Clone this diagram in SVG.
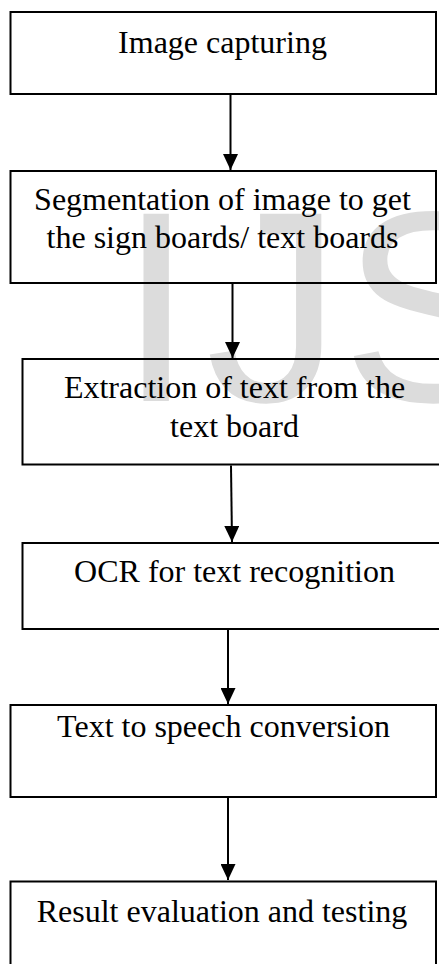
<svg xmlns="http://www.w3.org/2000/svg" width="439" height="964" viewBox="0 0 439 964">
  <style>
    .box { fill: none; stroke: #000; stroke-width: 2; }
    .lbl { font-family: "Liberation Serif", "Times New Roman", serif; font-size: 32px; fill: #000; text-anchor: middle; }
    .wm { font-family: "Liberation Sans", Arial, sans-serif; font-size: 272px; fill: #dcdcdc; }
    .edge { stroke: #000; stroke-width: 2; fill: none; }
  </style>
  <defs>
    <marker id="arrow" markerUnits="userSpaceOnUse" markerWidth="16" markerHeight="15" refX="16" refY="7.5" orient="auto">
      <path d="M0,0 L16,7.5 L0,15 Z" fill="#000"/>
    </marker>
  </defs>
  <rect width="439" height="964" fill="#fff"/>
  <g id="watermark">
    <text class="wm" x="118.4 205.5 341.5" y="401">IJS</text>
  </g>
  <g id="connectors">
    <line class="edge" x1="230.5" y1="95" x2="230.5" y2="170" marker-end="url(#arrow)"/>
    <line class="edge" x1="232.5" y1="284" x2="232.5" y2="358" marker-end="url(#arrow)"/>
    <line class="edge" x1="231" y1="465.5" x2="232" y2="542" marker-end="url(#arrow)"/>
    <line class="edge" x1="228" y1="630" x2="228" y2="704" marker-end="url(#arrow)"/>
    <line class="edge" x1="228" y1="798" x2="228" y2="880" marker-end="url(#arrow)"/>
  </g>
  <g id="n1">
    <rect class="box" x="10.5" y="12" width="425.5" height="82"/>
    <text class="lbl" x="222.5" y="53">Image capturing</text>
  </g>
  <g id="n2">
    <rect class="box" x="10.5" y="171" width="425.5" height="112"/>
    <text class="lbl" x="222.5" y="210">Segmentation of image to get</text>
    <text class="lbl" x="222.5" y="248">the sign boards/ text boards</text>
  </g>
  <g id="n3">
    <rect class="box" x="22.5" y="359" width="426" height="105.5"/>
    <text class="lbl" x="234.5" y="398">Extraction of text from the</text>
    <text class="lbl" x="234.5" y="436.5">text board</text>
  </g>
  <g id="n4">
    <rect class="box" x="22.5" y="543" width="426" height="86"/>
    <text class="lbl" x="234.5" y="581.5">OCR for text recognition</text>
  </g>
  <g id="n5">
    <rect class="box" x="10.5" y="705" width="425.5" height="92"/>
    <text class="lbl" x="223.5" y="737">Text to speech conversion</text>
  </g>
  <g id="n6">
    <rect class="box" x="10.5" y="881.5" width="425.5" height="100"/>
    <text class="lbl" x="222" y="921.5">Result evaluation and testing</text>
  </g>
</svg>
